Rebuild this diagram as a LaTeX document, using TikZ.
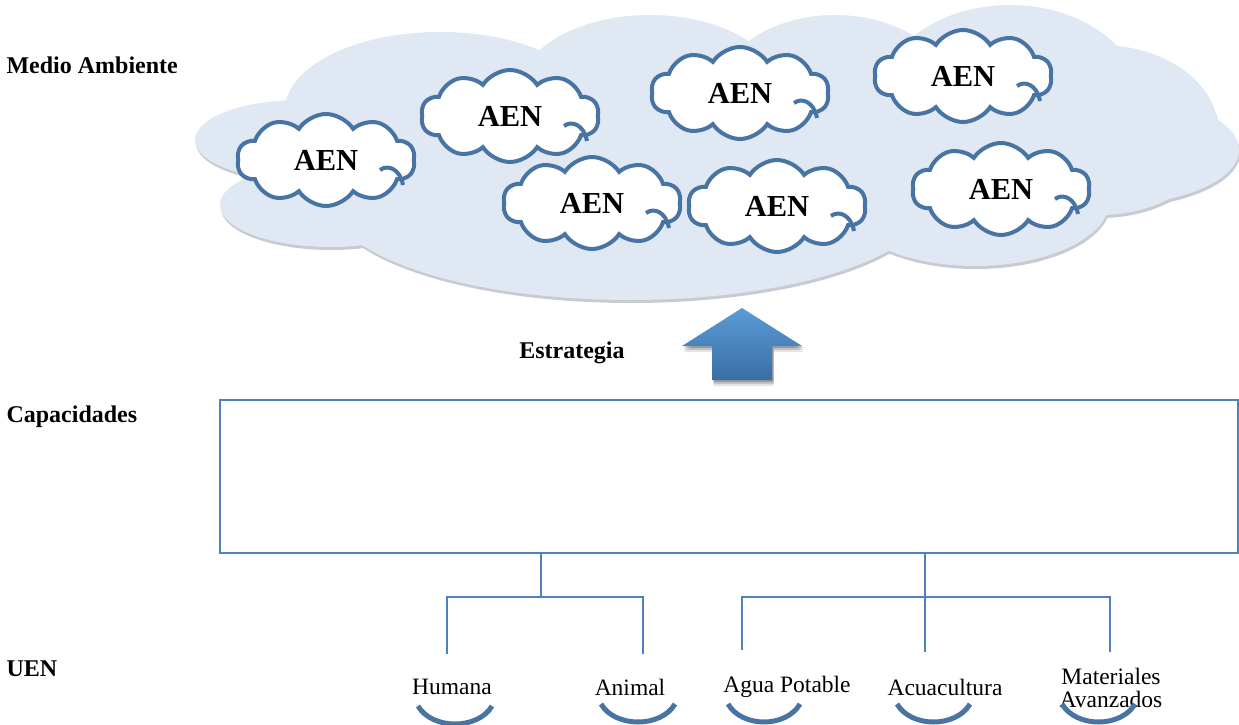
\documentclass[tikz,border=0pt]{standalone}
\usepackage{fontspec}
\setmainfont{Liberation Serif}
\usetikzlibrary{shapes.symbols}
\definecolor{skyfill}{RGB}{223,232,243}
\definecolor{skyshade}{RGB}{200,203,210}
\definecolor{puffline}{RGB}{72,116,164}
\definecolor{frameblue}{RGB}{79,129,189}
\definecolor{arrowtop}{RGB}{91,155,213}
\definecolor{arrowbot}{RGB}{58,110,165}
\tikzset{
  aen/.style={cloud, cloud puffs=10, cloud puff arc=115, aspect=1.9,
    draw=puffline, line width=4pt, fill=white, inner sep=0pt,
    minimum width=178pt, minimum height=92pt,
    font=\fontsize{30.5}{30}\selectfont\bfseries},
  puffmark/.style={draw=puffline, line width=4pt},
  lefttag/.style={anchor=west, font=\fontsize{24}{24}\selectfont\bfseries},
  uen/.style={font=\fontsize{23.5}{23}\selectfont, align=center},
  tree/.style={draw=frameblue, line width=1.6pt},
  smile/.style={draw=puffline, line width=5pt},
}
% inner hook of a puff cloud, running from inside to its lower-right border
\newcommand\puffmarks[1]{%
  \begin{scope}[shift={(#1.center)}]
    \draw[puffmark] (54,10) .. controls (62,4) and (74,9) .. (77,25);
  \end{scope}}
\begin{document}
\begin{tikzpicture}[x=1pt,y=-1pt]
\useasboundingbox (0,0) rectangle (1239,725);

% environment cloud: shadow then body, built from overlapping ellipses
\foreach \dx/\dy/\col in {1/3/skyshade, 0/0/skyfill}{
  \begin{scope}[shift={(\dx,\dy)}]
  \fill[\col] (300,140) ellipse [x radius=105, y radius=40];
  \fill[\col] (330,205) ellipse [x radius=110, y radius=42];
  \fill[\col] (440,110) ellipse [x radius=155, y radius=78];
  \fill[\col] (650,90) ellipse [x radius=130, y radius=75];
  \fill[\col] (835,100) ellipse [x radius=120, y radius=85];
  \fill[\col] (1010,100) ellipse [x radius=130, y radius=95];
  \fill[\col] (1100,130) ellipse [x radius=118, y radius=85];
  \fill[\col] (1110,150) ellipse [x radius=129, y radius=55];
  \fill[\col] (975,200) ellipse [x radius=135, y radius=66];
  \fill[\col] (630,200) ellipse [x radius=300, y radius=100];
  \fill[\col] (760,160) ellipse [x radius=350, y radius=80];
  \end{scope}
}

% business units inside the environment
\node[aen] (a1) at (326,160) {AEN};
\node[aen] (a2) at (510,116) {AEN};
\node[aen] (a3) at (740,93) {AEN};
\node[aen] (a4) at (963,76) {AEN};
\node[aen] (a5) at (592,203) {AEN};
\node[aen] (a6) at (777,206) {AEN};
\node[aen] (a7) at (1001,189) {AEN};
\foreach \n in {a1,a2,a3,a4,a5,a6,a7}{\puffmarks{\n}}

% strategy arrow with soft shadow
\foreach \o/\op in {6/0.10, 4/0.15, 2/0.2}{
  \fill[black, opacity=\op, shift={(1.5,\o)}] (742,308) -- (802,346) -- (772,346) -- (772,380) -- (712,380) -- (712,346) -- (682,346) -- cycle;
}
\shade[top color=arrowtop, bottom color=arrowbot] (742,308) -- (802,346) -- (772,346) -- (772,380) -- (712,380) -- (712,346) -- (682,346) -- cycle;

% left-hand labels
\node[lefttag] (lma) at (3,65) {Medio Ambiente};
\node[lefttag] (lcap) at (3,417) {Capacidades};
\node[lefttag] (luen) at (3,669) {UEN};
\node[font=\fontsize{24}{24}\selectfont\bfseries] (estr) at (572,353) {Estrategia};

% capabilities frame
\node[draw=frameblue, line width=1.5pt, minimum width=1018pt, minimum height=153pt, inner sep=0pt] (cap) at (729,476.5) {};

% branch points
\coordinate (b1) at (541,597);
\coordinate (b2) at (925,597);
\draw[tree] (cap.south -| b1) -- (b1);
\draw[tree] (cap.south -| b2) -- (925,652);
\draw[tree] (447,654) |- (b1) -| (643,654);
\draw[tree] (742,650) |- (b2) -| (1110,652);

% units
\node[uen] (u1) at (452,687) {Humana};
\node[uen] (u2) at (630,687) {Animal};
\node[uen] (u3) at (787,687) {Agua Potable};
\node[uen] (u4) at (945,687) {Acuacultura};
\node[uen] (u5) at (1111,688) {Materiales\\Avanzados};

% arcs under units
\draw[smile] (418,706) .. controls (432,730) and (478,730) .. (492,706);
\draw[smile] (601,704) .. controls (615,728) and (661,728) .. (675,704);
\draw[smile] (728,704) .. controls (742,728) and (786,728) .. (800,704);
\draw[smile] (897,704) .. controls (911,728) and (956,728) .. (970,704);
\draw[smile] (1062,704) .. controls (1076,728) and (1121,728) .. (1135,704);
\end{tikzpicture}
\end{document}
